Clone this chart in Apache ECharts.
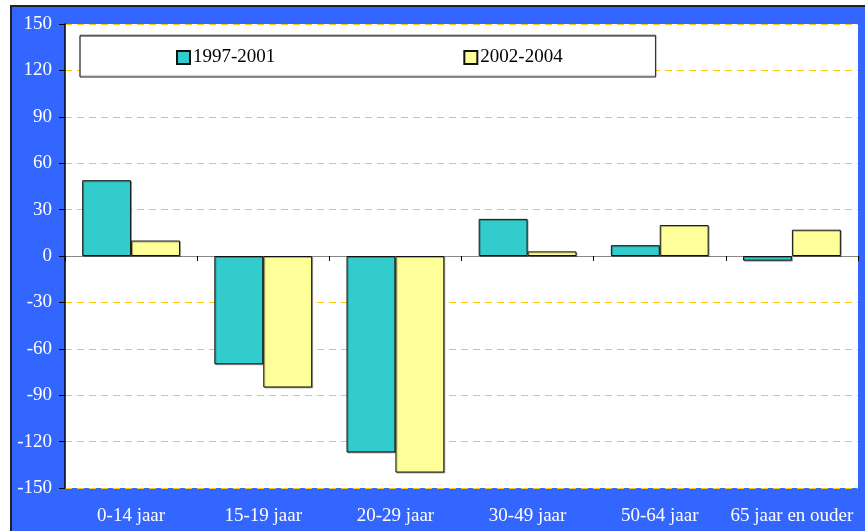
<!DOCTYPE html>
<html>
<head>
<meta charset="utf-8">
<script src="https://cdn.jsdelivr.net/npm/echarts@6/dist/echarts.min.js"></script>
<style>
  html, body { margin: 0; padding: 0; background: #fff; }
  #frame {
    position: absolute; left: 10px; top: 5px;
    width: 855px; height: 526px;
    background: #3366FF;
    border-top: 2px solid #222; border-left: 2px solid #222;
  }
  #chart { width: 855px; height: 526px; }
</style>
</head>
<body>
<div id="frame"><div id="chart"></div></div>
<script>
const categories = ['0-14 jaar', '15-19 jaar', '20-29 jaar', '30-49 jaar', '50-64 jaar', '65 jaar en ouder'];
const series1997 = [49, -70, -127, 24, 7, -3];
const series2002 = [10, -85, -140, 3, 20, 17];
const yTicks = { min: -150, max: 150, interval: 30 };

const font = '"Liberation Serif", "Times New Roman", serif';
const chart = echarts.init(document.getElementById('chart'));

chart.setOption({
  animation: false,
  textStyle: { fontFamily: font },
  grid: {
    left: 53, top: 17, right: 9, bottom: 45,
    show: true, backgroundColor: '#fff', borderWidth: 0
  },
  legend: {
    left: 68, top: 29,
    padding: [12, 93, 10, 96],
    itemGap: 188,
    itemWidth: 13, itemHeight: 13,
    icon: 'rect',
    borderColor: '#222', borderWidth: 1,
    backgroundColor: '#fff',
    shadowColor: 'rgba(0,0,0,0.35)', shadowOffsetX: 0, shadowOffsetY: -1, shadowBlur: 1,
    textStyle: { fontFamily: font, fontSize: 19, color: '#000', padding: [0, 0, 0, -2] },
    data: ['1997-2001', '2002-2004']
  },
  xAxis: [
    {
      type: 'category', data: categories, position: 'bottom',
      axisLine: { show: false, onZero: false }, axisTick: { show: false },
      axisLabel: { color: '#fff', fontSize: 19, fontFamily: font, margin: 19, interval: 0 }
    },
    {
      type: 'category', data: categories, position: 'bottom',
      axisLine: { show: true, onZero: true, lineStyle: { color: '#888', width: 1 } },
      axisTick: { show: true, length: 5, lineStyle: { color: '#000' } },
      axisLabel: { show: false }
    }
  ],
  yAxis: {
    type: 'value', min: yTicks.min, max: yTicks.max, interval: yTicks.interval,
    axisLine: { show: true, lineStyle: { color: '#000', width: 1.5 } },
    axisTick: { show: true, length: 6, lineStyle: { color: '#000' } },
    axisLabel: { color: '#fff', fontSize: 19, fontFamily: font, margin: 13 },
    splitLine: { show: true, lineStyle: { color: '#FFCC00', type: [7, 5], width: 1 } }
  },
  series: [
    {
      name: '1997-2001', type: 'bar', data: series1997,
      barGap: '0%', barCategoryGap: '26%',
      itemStyle: { color: '#33CCCC', borderColor: '#111', borderWidth: 1,
        shadowColor: 'rgba(0,0,0,0.3)', shadowOffsetX: 1, shadowOffsetY: 1 }
    },
    {
      name: '2002-2004', type: 'bar', data: series2002,
      barGap: '0%', barCategoryGap: '26%',
      itemStyle: { color: '#FFFF99', borderColor: '#111', borderWidth: 1,
        shadowColor: 'rgba(0,0,0,0.3)', shadowOffsetX: 1, shadowOffsetY: 1 }
    }
  ]
});
</script>
</body>
</html>
